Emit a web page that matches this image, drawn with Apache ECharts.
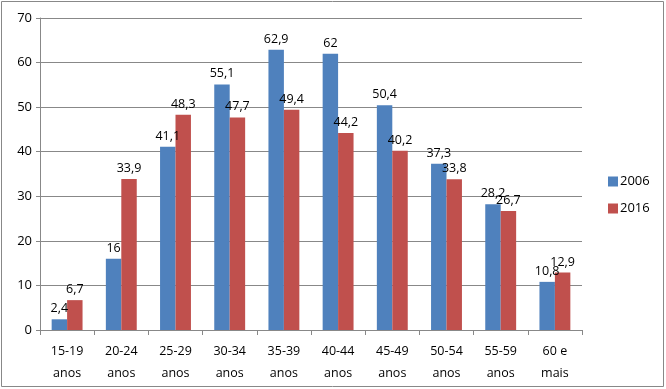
<!DOCTYPE html>
<html>
<head>
<meta charset="utf-8">
<script src="https://cdn.jsdelivr.net/npm/echarts@6/dist/echarts.min.js"></script>
<style>
  html, body { margin: 0; padding: 0; background: #fff; }
  #chart { width: 666px; height: 389px; }
</style>
</head>
<body>
<div id="chart"></div>
<script>
// age groups and values
var categories = ["15-19\nanos", "20-24\nanos", "25-29\nanos", "30-34\nanos", "35-39\nanos",
  "40-44\nanos", "45-49\nanos", "50-54\nanos", "55-59\nanos", "60 e\nmais"];
var values2006 = [2.4, 16, 41.1, 55.1, 62.9, 62, 50.4, 37.3, 28.2, 10.8];
var values2016 = [6.7, 33.9, 48.3, 47.7, 49.4, 44.2, 40.2, 33.8, 26.7, 12.9];
var yTicks = [0, 10, 20, 30, 40, 50, 60, 70];

var fontFam = "'Open Sans', 'Liberation Sans', sans-serif";

function fmt(v) {
  return String(v).replace(".", ",");
}

var chart = echarts.init(document.getElementById("chart"));

var labelStyle = {
  show: true,
  position: "top",
  distance: 4,
  color: "#000",
  fontSize: 12.5,
  fontFamily: fontFam,
  formatter: function (p) { return fmt(p.value); }
};

chart.setOption({
  animation: false,
  grid: { left: 40, right: 84, top: 18, bottom: 59 },
  graphic: [{
    type: "rect",
    shape: { x: 1.5, y: 1.5, width: 662, height: 385 },
    style: { fill: "none", stroke: "#888", lineWidth: 1 }
  }],
  legend: {
    orient: "vertical",
    left: 603,
    top: 170,
    itemWidth: 10,
    itemHeight: 10,
    itemGap: 14,
    icon: "rect",
    textStyle: { fontSize: 13, fontFamily: fontFam, color: "#000", padding: [0, 0, 0, -3] },
    data: ["2006", "2016"]
  },
  xAxis: {
    type: "category",
    data: categories,
    axisLine: { lineStyle: { color: "#888" } },
    axisTick: { show: true, length: 5, lineStyle: { color: "#888" } },
    axisLabel: { color: "#000", fontSize: 12.5, fontFamily: fontFam, lineHeight: 22, margin: 10, interval: 0 }
  },
  yAxis: {
    type: "value",
    min: yTicks[0],
    max: yTicks[yTicks.length - 1],
    interval: 10,
    axisLine: { show: true, lineStyle: { color: "#888" } },
    axisTick: { show: true, length: 4, lineStyle: { color: "#888" } },
    splitLine: { lineStyle: { color: "#888" } },
    axisLabel: { color: "#000", fontSize: 13, fontFamily: fontFam, margin: 8 }
  },
  series: [
    {
      name: "2006",
      type: "bar",
      data: values2006,
      barGap: "0%",
      barCategoryGap: "43%",
      itemStyle: { color: "#4F81BD" },
      label: labelStyle
    },
    {
      name: "2016",
      type: "bar",
      data: values2016,
      itemStyle: { color: "#C0504D" },
      label: labelStyle
    }
  ]
});
</script>
</body>
</html>
